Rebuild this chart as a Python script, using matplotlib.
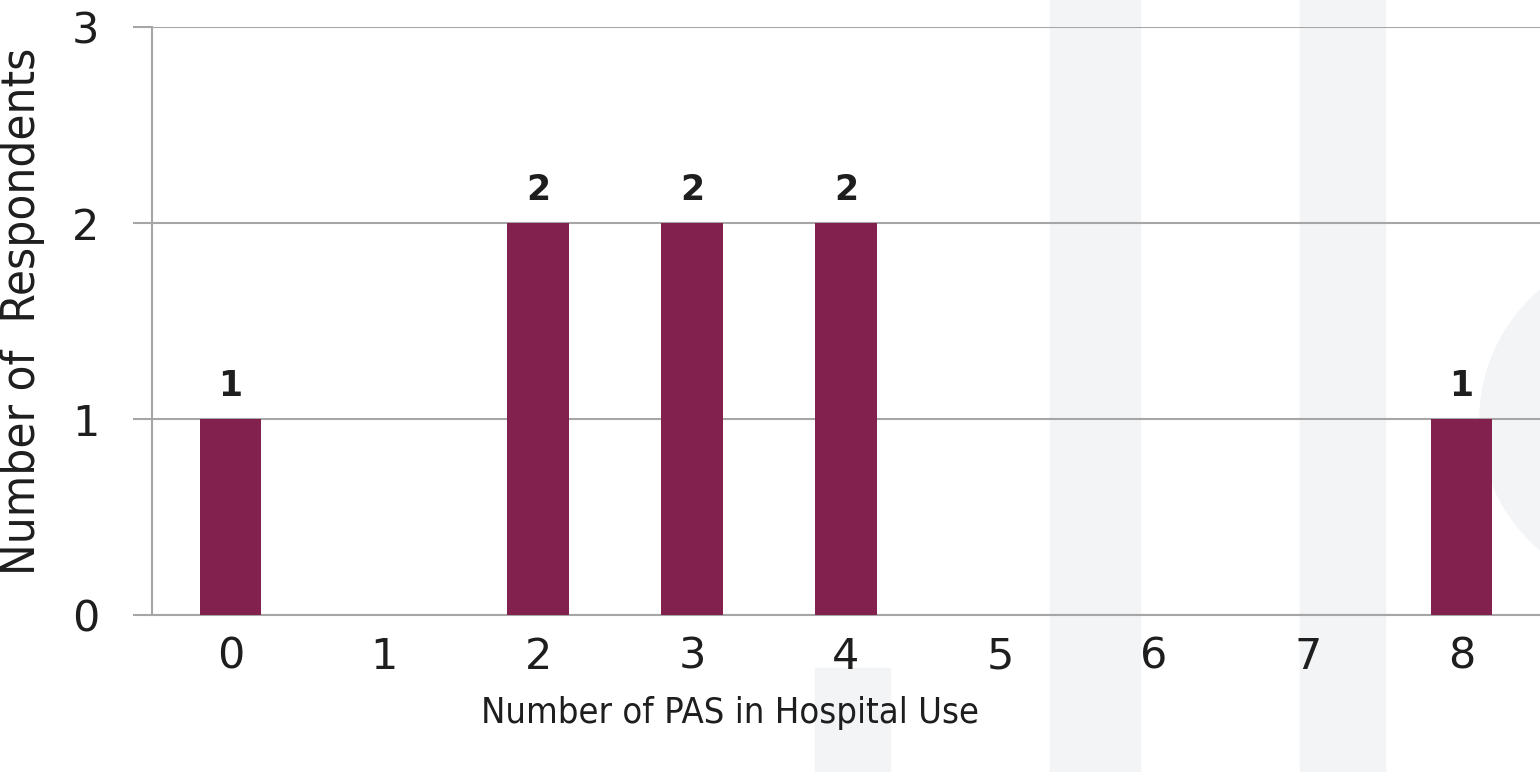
import matplotlib
matplotlib.use('Agg')
import matplotlib.pyplot as plt
from matplotlib.patches import Rectangle, Ellipse

# data
pas_counts = [0, 1, 2, 3, 4, 5, 6, 7, 8]
respondents = [1, 0, 2, 2, 2, 0, 0, 0, 1]

bar_color = '#82214e'
grid_color = '#a6a6a6'
text_color = '#1e1e1e'
wm_color = '#f3f4f6'

W, H = 1540, 772
fig = plt.figure(figsize=(W / 100, H / 100), dpi=100)

# faint watermark shapes behind the chart (pixel coords)
def px_rect(x0, y0, x1, y1):
    return Rectangle((x0 / W, 1 - y1 / H), (x1 - x0) / W, (y1 - y0) / H,
                     transform=fig.transFigure, color=wm_color, zorder=-5)

fig.patches.append(px_rect(1050, 0, 1140, H))
fig.patches.append(px_rect(1300, 0, 1385, H))
fig.patches.append(px_rect(815, 668, 890, H))
fig.patches.append(Ellipse((1650 / W, 1 - 420 / H), 340 / W, 340 / H,
                           transform=fig.transFigure, color=wm_color, zorder=-5))

ax = fig.add_axes([152 / W, 1 - 615 / H, 1 - 152 / W, (615 - 27) / H])
ax.set_facecolor('none')

ax.bar(pas_counts, respondents, width=0.4, color=bar_color, zorder=3)
for x, v in zip(pas_counts, respondents):
    if v > 0:
        ax.text(x, v + 0.08, str(v), ha='center', va='bottom', fontsize=25,
                fontweight='bold', color=text_color)

ax.set_xlim(-0.51, 8.51)
ax.set_ylim(0, 3)
ax.set_yticks([0, 1, 2, 3])
ax.set_xticks(pas_counts)
ax.yaxis.grid(True, color=grid_color, lw=1.5, zorder=1)
ax.set_axisbelow(True)

for s in ['top', 'right']:
    ax.spines[s].set_visible(False)
for s in ['left', 'bottom']:
    ax.spines[s].set_color(grid_color)
    ax.spines[s].set_linewidth(1.5)

ax.tick_params(axis='y', length=14, width=1.5, color=grid_color, pad=24,
               labelsize=31, labelcolor=text_color)
ax.tick_params(axis='x', length=0, pad=15, labelsize=31, labelcolor=text_color)

ax.set_xlabel('Number of PAS in Hospital Use', fontsize=26, color=text_color,
              fontstretch='condensed')
ax.xaxis.set_label_coords((730 - 152) / (W - 152), -0.138)
ax.set_ylabel('Number of  Respondents', fontsize=34, color=text_color,
              fontstretch='condensed')
ax.yaxis.set_label_coords(-(152 - 45) / (W - 152), (615 - 311) / (615 - 27))

fig.savefig('out.png', dpi=100)
